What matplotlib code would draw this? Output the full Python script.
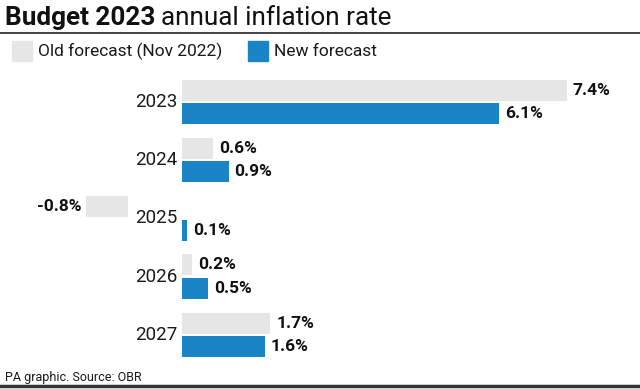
import numpy as np
import matplotlib.pyplot as plt

plt.rcParams['font.family'] = ['Roboto', 'DejaVu Sans']

years = ['2023', '2024', '2025', '2026', '2027']
old_forecast = [7.4, 0.6, -0.8, 0.2, 1.7]
new_forecast = [6.1, 0.9, 0.1, 0.5, 1.6]
old_labels = ['7.4%', '0.6%', '-0.8%', '0.2%', '1.7%']
new_labels = ['6.1%', '0.9%', '0.1%', '0.5%', '1.6%']

grey = '#e6e6e6'
blue = '#1a85c6'
W, H = 640, 389

fig = plt.figure(figsize=(6.4, 3.89), dpi=100)
ax = fig.add_axes([0, 0, 1, 1])
# 0% sits at x=182px, 52px per percentage point; rows 58px apart
ax.set_xlim(-182 / 52, (W - 182) / 52)
ax.set_ylim((H - 102) / 58.2, -102 / 58.2)
ax.axis('off')

y = np.arange(len(years))
off, h = 0.2, 0.36
neg_shift = -1.04  # negative bars are drawn left of the year label

for i in range(len(years)):
    v = old_forecast[i]
    if v < 0:
        ax.barh(y[i] - off, v, left=neg_shift, height=h, color=grey)
        ax.text(neg_shift + v - 0.1, y[i] - off, old_labels[i], ha='right', va='center',
                fontsize=12.5, fontweight='bold', color='#111111')
    else:
        ax.barh(y[i] - off, v, height=h, color=grey)
        ax.text(v + 0.11, y[i] - off, old_labels[i], ha='left', va='center',
                fontsize=12.5, fontweight='bold', color='#111111')
    ax.barh(y[i] + off, new_forecast[i], height=h, color=blue)
    ax.text(new_forecast[i] + 0.11, y[i] + off, new_labels[i], ha='left', va='center',
            fontsize=12.5, fontweight='bold', color='#111111')
    ax.text(-0.08, y[i], years[i], ha='right', va='center', fontsize=13.5, color='#1a1a1a')

# title
t1 = fig.text(5 / W, 1 - 25 / H, 'Budget 2023', fontsize=18.8, fontweight='bold',
              color='#111111', va='baseline')
fig.canvas.draw()
bb = t1.get_window_extent()
fig.text(bb.x1 / W + 6 / W, 1 - 25 / H, 'annual inflation rate', fontsize=18.8,
         color='#111111', va='baseline')
fig.add_artist(plt.Line2D([0, 1], [1 - 33 / H, 1 - 33 / H], color='#333333', lw=1.3))

# legend
fig.patches.append(plt.Rectangle((12 / W, 1 - 61 / H), 20 / W, 20 / H, color=grey,
                                 transform=fig.transFigure))
fig.text(38 / W, 1 - 51 / H, 'Old forecast (Nov 2022)', fontsize=12.5, color='#1a1a1a',
         va='center')
fig.patches.append(plt.Rectangle((248 / W, 1 - 61 / H), 20 / W, 20 / H, color=blue,
                                 transform=fig.transFigure))
fig.text(274 / W, 1 - 51 / H, 'New forecast', fontsize=12.5, color='#1a1a1a', va='center')

# footer
fig.text(5 / W, 1 - 377 / H, 'PA graphic. Source: OBR', fontsize=9, color='#1a1a1a',
         va='center')
fig.add_artist(plt.Line2D([0, 1], [1 - 386 / H, 1 - 386 / H], color='#333333', lw=2.5))

fig.savefig('out.png', dpi=100)
